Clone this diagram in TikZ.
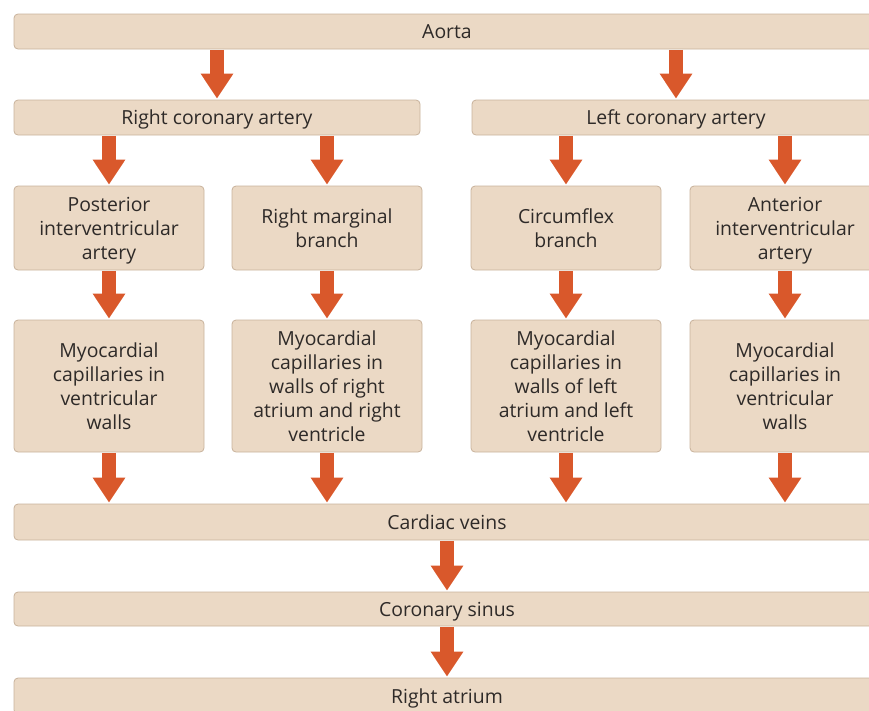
\documentclass[tikz,border=0pt]{standalone}
\usepackage{fontspec}
\setmainfont{Open Sans}
\usetikzlibrary{arrows.meta}
\definecolor{boxfill}{HTML}{EBD9C5}
\definecolor{boxline}{HTML}{C8B29C}
\definecolor{arrowc}{HTML}{D9582B}
\definecolor{txt}{HTML}{2E2A28}
\tikzset{
  box/.style={draw=boxline, line width=0.8pt, fill=boxfill, rounded corners=4pt,
    text=txt, align=center, inner sep=0pt, text depth=0pt,
    font=\fontsize{19.4}{24}\selectfont},
  flow/.style={draw=arrowc, line width=14pt,
    -{Triangle[width=31pt,length=25pt]}, shorten >=1pt, shorten <=0.5pt},
}
\begin{document}
\begin{tikzpicture}[x=1pt,y=-1pt]
\useasboundingbox (0,0) rectangle (869,710);
% rows
\node[box, minimum width=866pt, minimum height=35pt] (aorta) at (447,31.5) {Aorta};
\node[box, minimum width=406pt, minimum height=35pt] (rca) at (217,117.5) {Right coronary artery};
\node[box, minimum width=408pt, minimum height=35pt] (lca) at (676,117.5) {Left coronary artery};
\node[box, minimum width=190pt, minimum height=84pt] (pia) at (109,228) {Posterior\\interventricular\\artery};
\node[box, minimum width=190pt, minimum height=84pt] (rmb) at (327,228) {Right marginal\\branch};
\node[box, minimum width=190pt, minimum height=84pt] (cfb) at (566,228) {Circumflex\\branch};
\node[box, minimum width=190pt, minimum height=84pt] (aia) at (785,228) {Anterior\\interventricular\\artery};
\node[box, minimum width=190pt, minimum height=132pt] (m1) at (109,386) {Myocardial\\capillaries in\\ventricular\\walls};
\node[box, minimum width=190pt, minimum height=132pt] (m2) at (327,386) {Myocardial\\capillaries in\\walls of right\\atrium and right\\ventricle};
\node[box, minimum width=190pt, minimum height=132pt] (m3) at (566,386) {Myocardial\\capillaries in\\walls of left\\atrium and left\\ventricle};
\node[box, minimum width=190pt, minimum height=132pt] (m4) at (785,386) {Myocardial\\capillaries in\\ventricular\\walls};
\node[box, minimum width=866pt, minimum height=36pt] (veins) at (447,522) {Cardiac veins};
\node[box, minimum width=866pt, minimum height=34pt] (sinus) at (447,609) {Coronary sinus};
\node[box, minimum width=866pt, minimum height=36pt] (atrium) at (447,696) {Right atrium};
% arrows
\draw[flow] (rca.north |- aorta.south) -- (rca.north);
\draw[flow] (lca.north |- aorta.south) -- (lca.north);
\draw[flow] (pia.north |- rca.south) -- (pia.north);
\draw[flow] (rmb.north |- rca.south) -- (rmb.north);
\draw[flow] (cfb.north |- lca.south) -- (cfb.north);
\draw[flow] (aia.north |- lca.south) -- (aia.north);
\draw[flow] (pia.south) -- (m1.north);
\draw[flow] (rmb.south) -- (m2.north);
\draw[flow] (cfb.south) -- (m3.north);
\draw[flow] (aia.south) -- (m4.north);
\draw[flow] (m1.south) -- (m1.south |- veins.north);
\draw[flow] (m2.south) -- (m2.south |- veins.north);
\draw[flow] (m3.south) -- (m3.south |- veins.north);
\draw[flow] (m4.south) -- (m4.south |- veins.north);
\draw[flow] (veins.south) -- (sinus.north);
\draw[flow] (sinus.south) -- (atrium.north);
\end{tikzpicture}
\end{document}
